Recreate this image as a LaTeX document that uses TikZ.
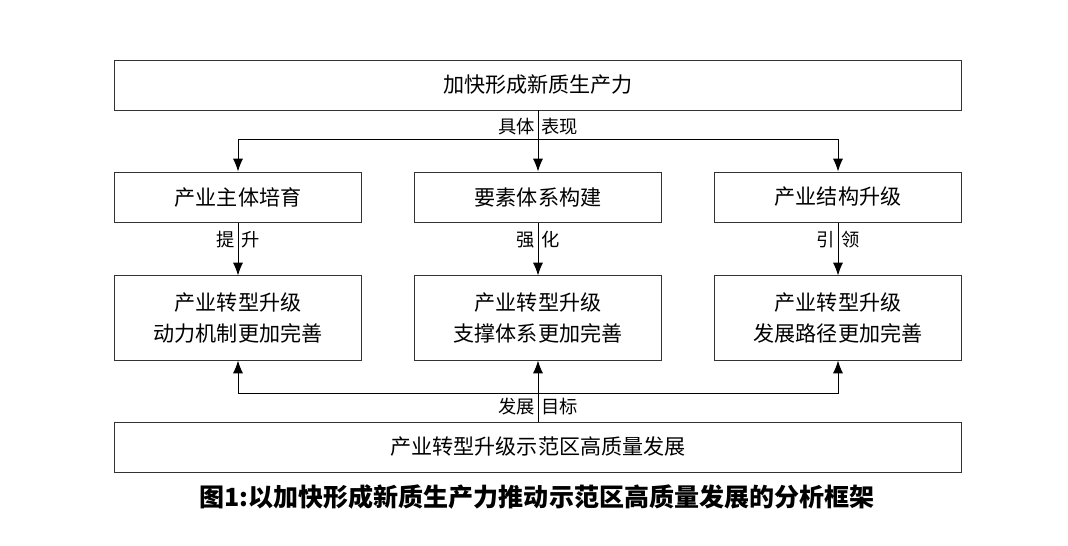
\documentclass[tikz,border=0pt]{standalone}
\usepackage{fontspec}
\setmainfont{Noto Sans CJK SC}
\usetikzlibrary{arrows.meta}
\begin{document}
\begin{tikzpicture}[x=0.025cm,y=-0.025cm,
>={Latex[length=3.2mm,width=2.5mm]},
line width=0.7pt,
wide/.style={draw=black!80,minimum width=21.175cm,minimum height=1.25cm,font=\fontsize{15}{18}\selectfont},
box/.style={draw=black!80,minimum width=6.15cm,minimum height=1.25cm,font=\fontsize{15}{18}\selectfont},
tallbox/.style={box,minimum height=2.1cm,align=center,font=\fontsize{15}{22}\selectfont},
lab/.style={font=\fontsize{13}{15}\selectfont,inner sep=2pt}]

\useasboundingbox (0,0) rectangle (1068,546);

\node[wide](top) at (538,85) {加快形成新质生产力};
\node[box](cult) at (238,197) {产业主体培育};
\node[box](fact) at (538,197) {要素体系构建};
\node[box](stru) at (838,197) {产业结构升级};
\node[tallbox](mech) at (238,318) {产业转型升级\\动力机制更加完善};
\node[tallbox](supp) at (538,318) {产业转型升级\\支撑体系更加完善};
\node[tallbox](path) at (838,318) {产业转型升级\\发展路径更加完善};
\node[wide](zone) at (538,447) {产业转型升级示范区高质量发展};
\node[font=\bfseries\fontsize{17.8}{20}\selectfont](cap) at (537,497) {图1:以加快形成新质生产力推动示范区高质量发展的分析框架};

\coordinate (split) at (538,139);
\coordinate (join) at (538,393);

\draw[->] (top.south) -- node[pos=.27,left,lab]{具体} node[pos=.27,right,lab]{表现} (fact.north);
\draw[->] (split) -| (cult.north);
\draw[->] (split) -| (stru.north);

\draw[->] (cult) -- node[pos=.33,left,lab]{提} node[pos=.33,right,lab]{升} (mech);
\draw[->] (fact) -- node[pos=.33,left,lab]{强} node[pos=.33,right,lab]{化} (supp);
\draw[->] (stru) -- node[pos=.33,left,lab]{引} node[pos=.33,right,lab]{领} (path);

\draw[->] (zone.north) -- node[pos=.24,left,lab]{发展} node[pos=.24,right,lab]{目标} (supp.south);
\draw[->] (join) -| (mech.south);
\draw[->] (join) -| (path.south);

\end{tikzpicture}
\end{document}
